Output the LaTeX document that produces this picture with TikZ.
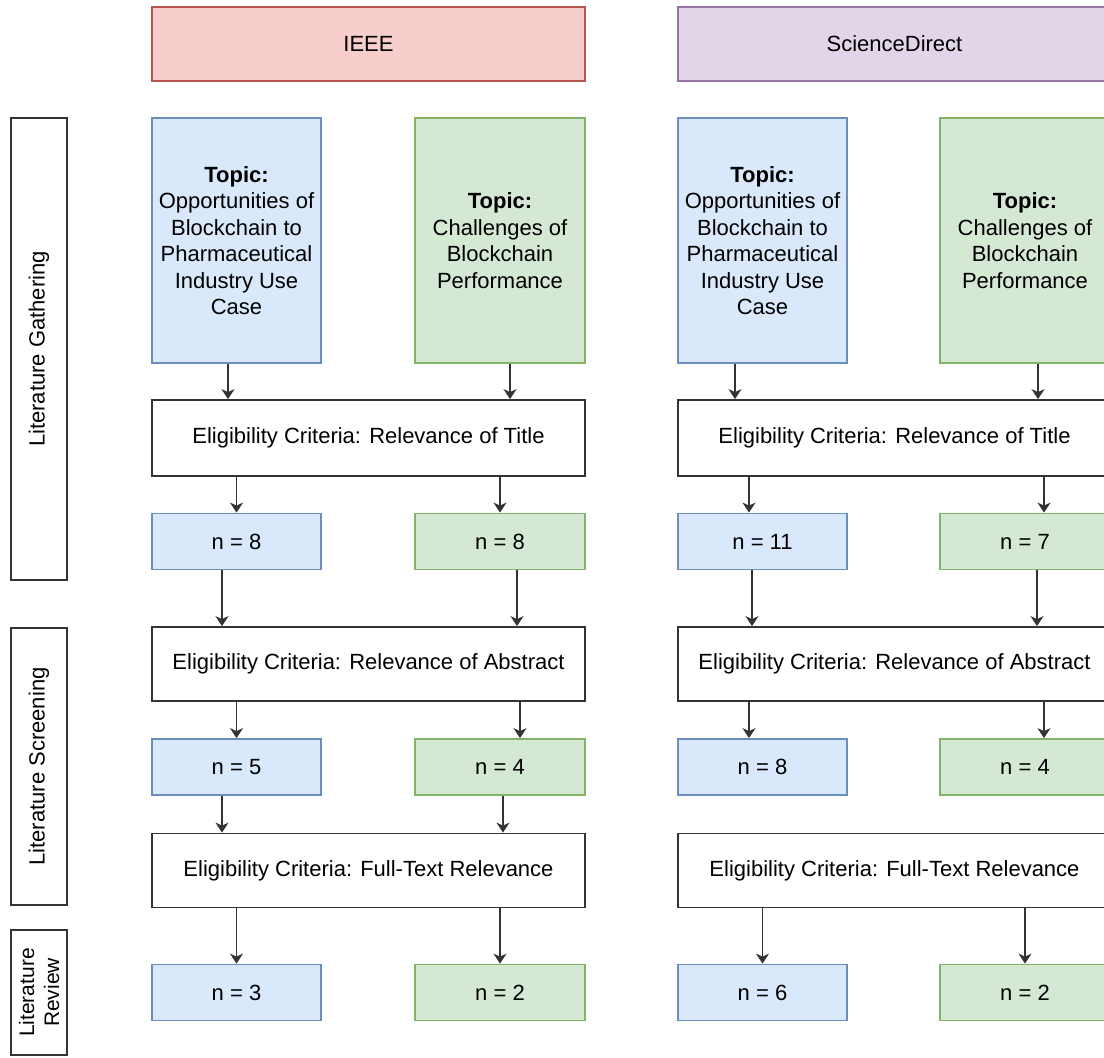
\documentclass[tikz,border=0pt]{standalone}
\usepackage{fontspec}
\setmainfont{Liberation Sans}
\usetikzlibrary{arrows.meta}
\definecolor{blueFill}{HTML}{DAE8FC}
\definecolor{blueLine}{HTML}{6C8EBF}
\definecolor{greenFill}{HTML}{D5E8D4}
\definecolor{greenLine}{HTML}{82B366}
\definecolor{redFill}{HTML}{F8CECC}
\definecolor{redLine}{HTML}{B85450}
\definecolor{purpleFill}{HTML}{E1D5E7}
\definecolor{purpleLine}{HTML}{9673A6}
\definecolor{edgeGray}{HTML}{333333}
\tikzset{
  box/.style={draw, line width=0.9pt, minimum height=#1, inner sep=2pt, align=center, font=\fontsize{11}{13.25}\selectfont},
  box/.default=37pt,
  wide/.style={box, draw=edgeGray, fill=white, minimum width=216.5pt},
  source/.style={box, minimum width=216.5pt},
  ieee/.style={source, fill=redFill, draw=redLine},
  sd/.style={source, fill=purpleFill, draw=purpleLine},
  opp/.style={box=#1, fill=blueFill, draw=blueLine, minimum width=84.5pt},
  opp/.default=28pt,
  chal/.style={box=#1, fill=greenFill, draw=greenLine, minimum width=85pt},
  chal/.default=28pt,
  phase/.style={box=28pt, draw=edgeGray, minimum width=#1, rotate=90},
  link/.style={draw=edgeGray, line width=0.8pt, -{Stealth[length=5pt,width=6.5pt,inset=1.5pt]}}
}
\begin{document}
\begin{tikzpicture}[x=0.5pt,y=-0.5pt]
  \useasboundingbox (0,0) rectangle (1104,1057);
  % phases
  \node[phase=231pt] (gather) at (39,349) {Literature Gathering};
  \node[phase=138.5pt] (screen) at (39,766.5) {Literature Screening};
  \node[phase=62.5pt, font=\fontsize{10.5}{12.5}\selectfont] (review) at (39,992.5) {Literature\\Review};
  % sources
  \node[ieee] (ieee) at (368.5,44) {IEEE};
  \node[sd] (sd) at (894.5,44) {ScienceDirect};
  % IEEE column
  \node[opp=122.5pt] (ieeeTopA) at (236.5,240.5) {\textbf{Topic:}\\Opportunities of\\Blockchain to\\Pharmaceutical\\Industry Use\\Case};
  \node[chal=122.5pt] (ieeeTopB) at (500,240.5) {\textbf{Topic:}\\Challenges of\\Blockchain\\Performance};
  \node[wide, minimum height=38pt] (ieeeTitle) at (368.5,438) {Eligibility Criteria: Relevance of Title};
  \node[opp] (ieeeN1A) at (236.5,541.5) {n = 8};
  \node[chal] (ieeeN1B) at (500,541.5) {n = 8};
  \node[wide] (ieeeAbs) at (368.5,664) {Eligibility Criteria: Relevance of Abstract};
  \node[opp] (ieeeN2A) at (236.5,767) {n = 5};
  \node[chal] (ieeeN2B) at (500,767) {n = 4};
  \node[wide] (ieeeFull) at (368.5,870.5) {Eligibility Criteria: Full-Text Relevance};
  \node[opp] (ieeeN3A) at (236.5,992.5) {n = 3};
  \node[chal] (ieeeN3B) at (500,992.5) {n = 2};
  % ScienceDirect column
  \node[opp=122.5pt] (sdTopA) at (762.5,240.5) {\textbf{Topic:}\\Opportunities of\\Blockchain to\\Pharmaceutical\\Industry Use\\Case};
  \node[chal=122.5pt] (sdTopB) at (1025,240.5) {\textbf{Topic:}\\Challenges of\\Blockchain\\Performance};
  \node[wide, minimum height=38pt] (sdTitle) at (894.5,438) {Eligibility Criteria: Relevance of Title};
  \node[opp] (sdN1A) at (762.5,541.5) {n = 11};
  \node[chal] (sdN1B) at (1025,541.5) {n = 7};
  \node[wide] (sdAbs) at (894.5,664) {Eligibility Criteria: Relevance of Abstract};
  \node[opp] (sdN2A) at (762.5,767) {n = 8};
  \node[chal] (sdN2B) at (1025,767) {n = 4};
  \node[wide] (sdFull) at (894.5,870.5) {Eligibility Criteria: Full-Text Relevance};
  \node[opp] (sdN3A) at (762.5,992.5) {n = 6};
  \node[chal] (sdN3B) at (1025,992.5) {n = 2};
  % IEEE links
  \draw[link] ([xshift=-4.25pt]ieeeTopA.south) -- ([xshift=-4.25pt]ieeeTopA.south |- ieeeTitle.north);
  \draw[link] ([xshift=5pt]ieeeTopB.south) -- ([xshift=5pt]ieeeTopB.south |- ieeeTitle.north);
  \draw[link] (ieeeN1A.north |- ieeeTitle.south) -- (ieeeN1A.north);
  \draw[link] (ieeeN1B.north |- ieeeTitle.south) -- (ieeeN1B.north);
  \draw[link] ([xshift=-7.25pt]ieeeN1A.south) -- ([xshift=-7.25pt]ieeeN1A.south |- ieeeAbs.north);
  \draw[link] ([xshift=8.5pt]ieeeN1B.south) -- ([xshift=8.5pt]ieeeN1B.south |- ieeeAbs.north);
  \draw[link] (ieeeN2A.north |- ieeeAbs.south) -- (ieeeN2A.north);
  \draw[link] ([xshift=10pt]ieeeN2B.north |- ieeeAbs.south) -- ([xshift=10pt]ieeeN2B.north);
  \draw[link] ([xshift=-7.25pt]ieeeN2A.south) -- ([xshift=-7.25pt]ieeeN2A.south |- ieeeFull.north);
  \draw[link] ([xshift=1.5pt]ieeeN2B.south) -- ([xshift=1.5pt]ieeeN2B.south |- ieeeFull.north);
  \draw[link] (ieeeN3A.north |- ieeeFull.south) -- (ieeeN3A.north);
  \draw[link] (ieeeN3B.north |- ieeeFull.south) -- (ieeeN3B.north);
  % ScienceDirect links
  \draw[link] ([xshift=-13.75pt]sdTopA.south) -- ([xshift=-13.75pt]sdTopA.south |- sdTitle.north);
  \draw[link] ([xshift=6.5pt]sdTopB.south) -- ([xshift=6.5pt]sdTopB.south |- sdTitle.north);
  \draw[link] ([xshift=-6.75pt]sdN1A.north |- sdTitle.south) -- ([xshift=-6.75pt]sdN1A.north);
  \draw[link] ([xshift=9.5pt]sdN1B.north |- sdTitle.south) -- ([xshift=9.5pt]sdN1B.north);
  \draw[link] ([xshift=-5.25pt]sdN1A.south) -- ([xshift=-5.25pt]sdN1A.south |- sdAbs.north);
  \draw[link] ([xshift=6pt]sdN1B.south) -- ([xshift=6pt]sdN1B.south |- sdAbs.north);
  \draw[link] ([xshift=-6.75pt]sdN2A.north |- sdAbs.south) -- ([xshift=-6.75pt]sdN2A.north);
  \draw[link] ([xshift=9.5pt]sdN2B.north |- sdAbs.south) -- ([xshift=9.5pt]sdN2B.north);
  \draw[link] (sdN3A.north |- sdFull.south) -- (sdN3A.north);
  \draw[link] (sdN3B.north |- sdFull.south) -- (sdN3B.north);
\end{tikzpicture}
\end{document}
